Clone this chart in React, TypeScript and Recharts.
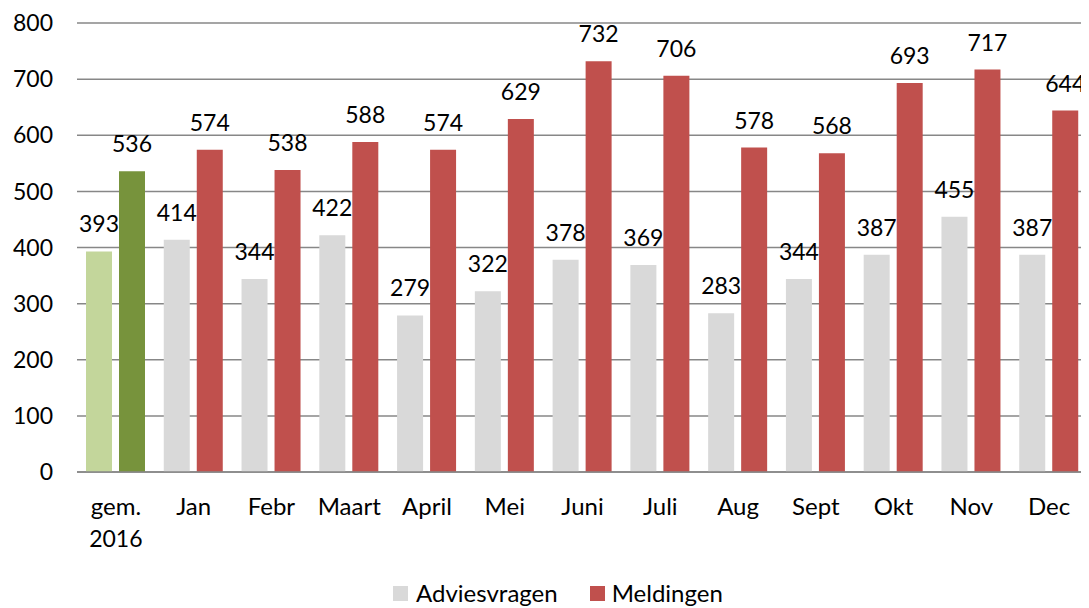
import React from "react";
import { BarChart, Bar, XAxis, YAxis, CartesianGrid, Legend, LabelList, Cell } from "recharts";

const categories = ["gem.\n2016", "Jan", "Febr", "Maart", "April", "Mei", "Juni", "Juli", "Aug", "Sept", "Okt", "Nov", "Dec"];
const adviesvragen = [393, 414, 344, 422, 279, 322, 378, 369, 283, 344, 387, 455, 387];
const meldingen = [536, 574, 538, 588, 574, 629, 732, 706, 578, 568, 693, 717, 644];
const yTicks = [0, 100, 200, 300, 400, 500, 600, 700, 800];

const data = categories.map((c, i) => ({ name: c, Adviesvragen: adviesvragen[i], Meldingen: meldingen[i] }));

const FONT = "Lato, 'DejaVu Sans', sans-serif";
const GRAY = "#D9D9D9";
const RED = "#C0504D";
const LIGHT_GREEN = "#C3D69B";
const DARK_GREEN = "#77933C";

const XTick = (props: any) => {
  const { x, y, payload } = props;
  const lines = String(payload.value).split("\n");
  return (
    <g>
      <text x={x} y={y} textAnchor="middle" fontSize={24} fontFamily={FONT} fill="#000">
        {lines.map((l, i) => (
          <tspan key={i} x={x} dy={i === 0 ? 43 : 32} fontSize={/^\d+$/.test(l) ? 23 : 24}>{l}</tspan>
        ))}
      </text>
    </g>
  );
};

const LegendContent = () => (
  <div style={{ display: "flex", alignItems: "center", fontFamily: FONT, fontSize: 24, lineHeight: "28px", color: "#000", whiteSpace: "nowrap" }}>
    <span style={{ display: "inline-block", width: 15, height: 15, background: GRAY, marginRight: 8 }} />
    <span style={{ marginRight: 32 }}>Adviesvragen</span>
    <span style={{ display: "inline-block", width: 15, height: 15, background: RED, marginRight: 7 }} />
    <span>Meldingen</span>
  </div>
);

export default function App() {
  return (
    <BarChart
      width={1081}
      height={600}
      data={data}
      margin={{ top: 15, right: 1, bottom: 0, left: 0 }}
      barSize={26}
      barGap={7}
    >
      <CartesianGrid vertical={false} stroke="#878787" strokeWidth={1.5} />
      <XAxis
        dataKey="name"
        axisLine={{ stroke: "#878787", strokeWidth: 1.5 }}
        tickLine={false}
        tickSize={0}
        tickMargin={0}
        height={136}
        interval={0}
        tick={<XTick />}
      />
      <YAxis
        domain={[0, 800]}
        ticks={yTicks}
        axisLine={false}
        tickLine={false}
        tickSize={0}
        tickMargin={24}
        width={69}
        tick={{ fontSize: 23, fontFamily: FONT, fill: "#000" }}
      />
      <Legend
        layout="horizontal"
        verticalAlign="middle"
        align="center"
        content={<LegendContent />}
        wrapperStyle={{ position: "absolute", left: 385, top: 571, width: "auto", bottom: "auto" }}
      />
      <Bar dataKey="Adviesvragen" fill={GRAY} isAnimationActive={false}>
        {data.map((_, i) => (
          <Cell key={i} fill={i === 0 ? LIGHT_GREEN : GRAY} />
        ))}
        <LabelList dataKey="Adviesvragen" position="top" offset={19} fontSize={23} fontFamily={FONT} fill="#000" />
      </Bar>
      <Bar dataKey="Meldingen" fill={RED} isAnimationActive={false}>
        {data.map((_, i) => (
          <Cell key={i} fill={i === 0 ? DARK_GREEN : RED} />
        ))}
        <LabelList dataKey="Meldingen" position="top" offset={19} fontSize={23} fontFamily={FONT} fill="#000" />
      </Bar>
    </BarChart>
  );
}
